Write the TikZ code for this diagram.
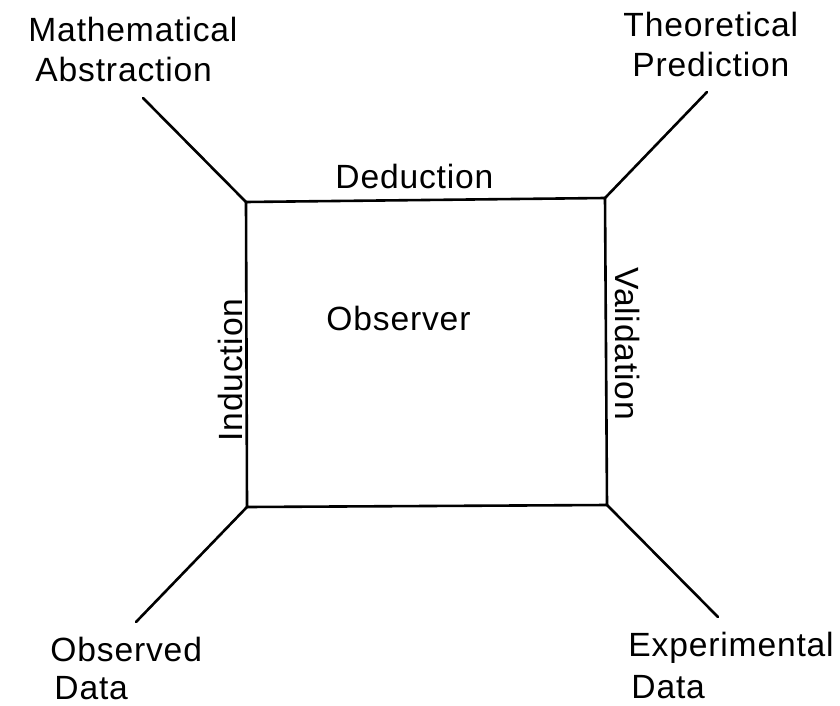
\documentclass[tikz,border=0pt]{standalone}
\usepackage{fontspec}
\setmainfont{Liberation Sans}[LetterSpace=2.5]
\begin{document}
\begin{tikzpicture}[x=0.5pt,y=-0.5pt,
  lbl/.style={anchor=base west, inner sep=0pt, font=\fontsize{16.8}{20}\selectfont},
  edge/.style={line width=1.3pt, line cap=round, line join=round}]
\useasboundingbox (0,0) rectangle (840,706);
% corners
\coordinate (tl) at (246,202);
\coordinate (tr) at (605,198);
\coordinate (br) at (607,505);
\coordinate (bl) at (247,507);
% free ends
\coordinate (tle) at (143,98);
\coordinate (tre) at (707,92);
\coordinate (ble) at (136,622);
\coordinate (bre) at (718,617);
\draw[edge] (tl) -- (tr) -- (br) -- (bl) -- cycle;
\draw[edge] (tl) -- (tle);
\draw[edge] (tr) -- (tre);
\draw[edge] (bl) -- (ble);
\draw[edge] (br) -- (bre);
% labels
\node[lbl] (ma) at (28,42) {Mathematical};
\node[lbl] (ab) at (35,82) {Abstraction};
\node[lbl] (th) at (623,37) {Theoretical};
\node[lbl] (pr) at (632,77) {Prediction};
\node[lbl] (de) at (335,188) {Deduction};
\node[lbl] (ob) at (326,330) {Observer};
\node[lbl] (od) at (50,661) {Observed};
\node[lbl] (dl) at (54,699) {Data};
\node[lbl] (ex) at (628,656) {Experimental};
\node[lbl] (dr) at (631,698) {Data};
\node[lbl, rotate=90] (in) at (242,442) {Induction};
\node[lbl, rotate=-90] (va) at (615,267) {Validation};
\end{tikzpicture}
\end{document}
